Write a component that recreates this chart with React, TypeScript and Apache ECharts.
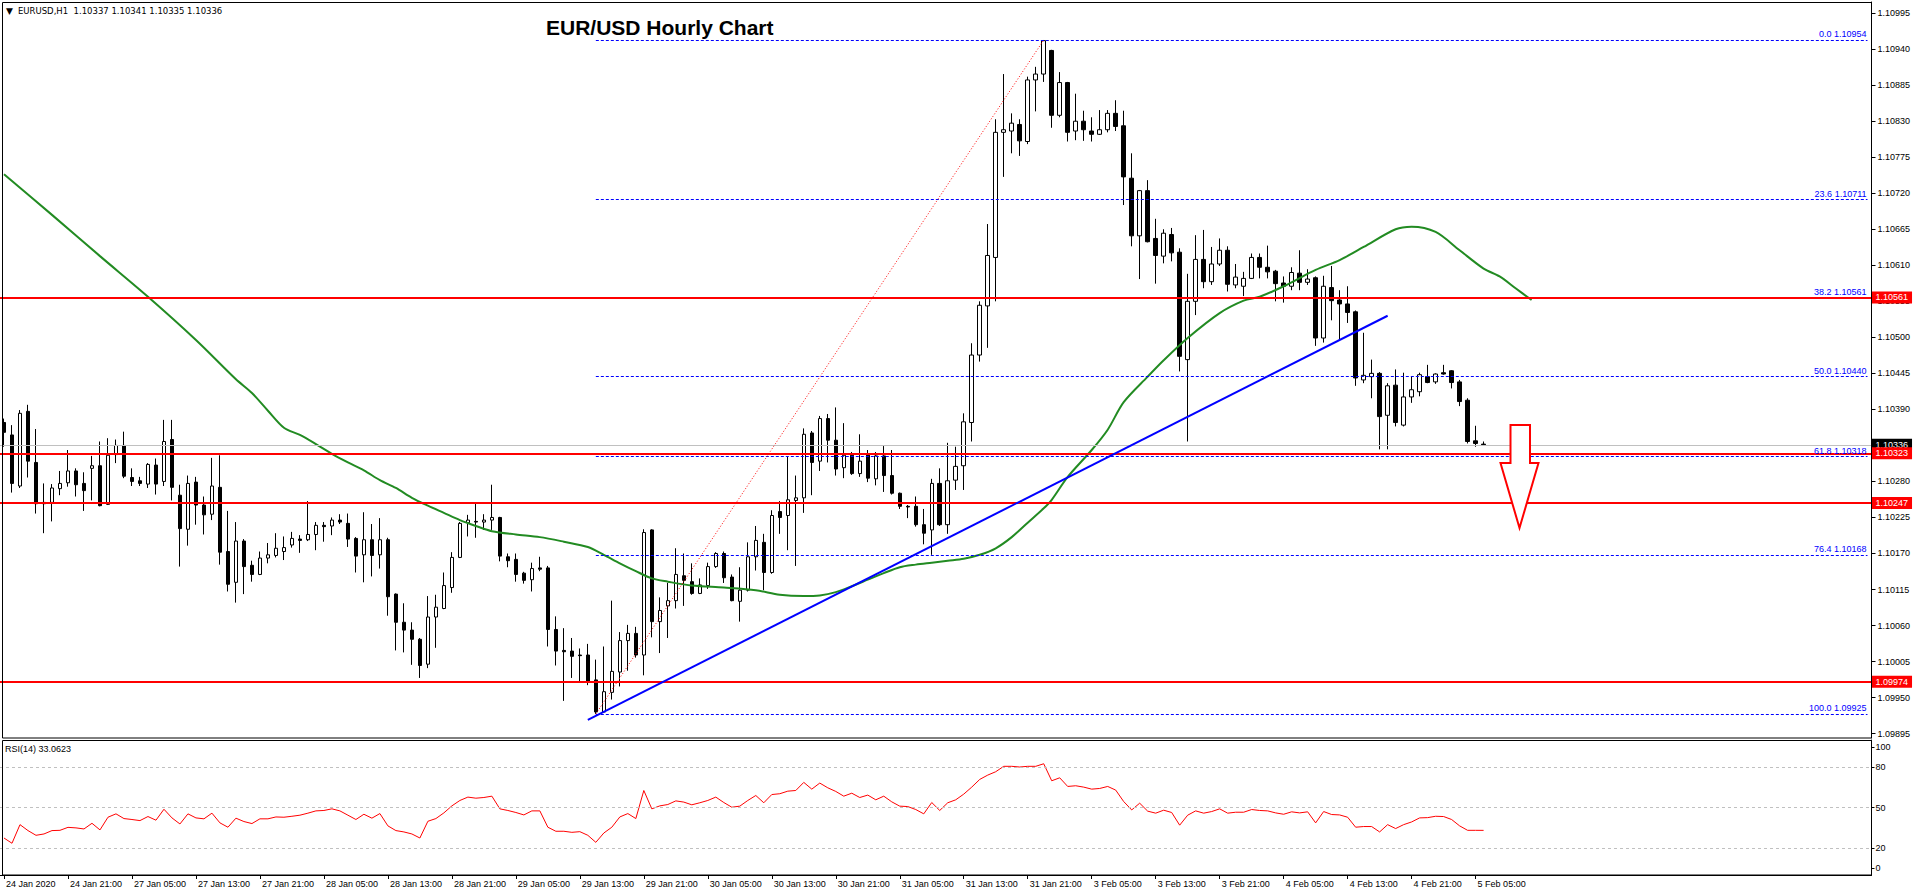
import React, { useEffect, useRef } from "react";
import * as echarts from "echarts";

// ---------- data ----------
const open = [
  1.10370,1.10351,1.10273,1.10387,1.10309,1.10246,1.10248,1.10269,1.10278,1.10296,
  1.10277,1.10300,1.10304,1.10245,1.10321,1.10335,1.10286,1.10281,1.10276,1.10305,
  1.10280,1.10344,1.10259,1.10207,1.10279,1.10244,1.10230,1.10271,1.10173,1.10126,
  1.10189,1.10152,1.10138,1.10163,1.10167,1.10173,1.10183,1.10192,1.10191,1.10199,
  1.10213,1.10212,1.10221,1.10216,1.10193,1.10168,1.10191,1.10168,1.10191,1.10108,
  1.10065,1.10053,1.10039,1.10001,1.10073,1.10086,1.10118,1.10164,1.10217,1.10219,
  1.10218,1.10221,1.10225,1.10165,1.10161,1.10140,1.10130,1.10148,1.10148,1.10054,
  1.10022,1.10021,1.10015,1.10015,1.09977,1.09928,1.09958,1.09989,1.10037,1.10048,
  1.10015,1.10206,1.10066,1.10090,1.10098,1.10136,1.10127,1.10109,1.10121,1.10150,
  1.10170,1.10134,1.10097,1.10114,1.10165,1.10187,1.10141,1.10234,1.10228,1.10251,
  1.10255,1.10354,1.10311,1.10376,1.10343,1.10301,1.10320,1.10292,1.10322,1.10284,
  1.10319,1.10289,1.10262,1.10242,1.10242,1.10214,1.10206,1.10277,1.10214,1.10282,
  1.10304,1.10370,1.10473,1.10548,1.10622,1.10813,1.10815,1.10825,1.10799,1.10893,
  1.10902,1.10938,1.10839,1.10889,1.10815,1.10830,1.10815,1.10810,1.10817,1.10842,
  1.10823,1.10743,1.10655,1.10724,1.10651,1.10624,1.10657,1.10630,1.10466,1.10555,
  1.10619,1.10585,1.10612,1.10633,1.10580,1.10578,1.10590,1.10622,1.10607,1.10601,
  1.10583,1.10578,1.10598,1.10584,1.10591,1.10499,1.10576,1.10557,1.10551,1.10539,
  1.10435,1.10440,1.10445,1.10381,1.10427,1.10366,1.10409,1.10417,1.10440,1.10432,
  1.10446,1.10449,1.10432,1.10404,1.10342,1.10337,
];
const high = [
  1.10376,1.10366,1.10389,1.10397,1.10360,1.10277,1.10276,1.10296,1.10328,1.10300,
  1.10294,1.10319,1.10341,1.10346,1.10344,1.10356,1.10300,1.10287,1.10308,1.10315,
  1.10374,1.10374,1.10275,1.10289,1.10287,1.10257,1.10316,1.10320,1.10235,1.10218,
  1.10192,1.10159,1.10173,1.10186,1.10201,1.10196,1.10203,1.10198,1.10250,1.10218,
  1.10218,1.10225,1.10230,1.10231,1.10195,1.10233,1.10215,1.10224,1.10194,1.10109,
  1.10094,1.10065,1.10041,1.10105,1.10107,1.10141,1.10172,1.10218,1.10229,1.10247,
  1.10230,1.10275,1.10226,1.10170,1.10170,1.10142,1.10156,1.10165,1.10151,1.10074,
  1.10056,1.10041,1.10025,1.10032,1.10008,1.10028,1.10098,1.10050,1.10061,1.10058,
  1.10207,1.10207,1.10103,1.10125,1.10178,1.10170,1.10155,1.10132,1.10156,1.10172,
  1.10173,1.10138,1.10149,1.10187,1.10212,1.10200,1.10236,1.10250,1.10318,1.10289,
  1.10361,1.10357,1.10380,1.10383,1.10393,1.10369,1.10325,1.10352,1.10328,1.10325,
  1.10334,1.10328,1.10263,1.10244,1.10257,1.10238,1.10284,1.10300,1.10339,1.10333,
  1.10384,1.10491,1.10555,1.10673,1.10833,1.10902,1.10842,1.10833,1.10898,1.10913,
  1.10954,1.10939,1.10905,1.10890,1.10872,1.10846,1.10836,1.10847,1.10847,1.10862,
  1.10846,1.10781,1.10725,1.10740,1.10681,1.10665,1.10667,1.10636,1.10597,1.10656,
  1.10664,1.10638,1.10651,1.10639,1.10612,1.10600,1.10628,1.10628,1.10640,1.10603,
  1.10593,1.10607,1.10633,1.10604,1.10593,1.10594,1.10609,1.10572,1.10578,1.10541,
  1.10507,1.10466,1.10447,1.10430,1.10451,1.10446,1.10440,1.10446,1.10458,1.10445,
  1.10458,1.10450,1.10435,1.10407,1.10365,1.10341,
];
const low = [
  1.10333,1.10263,1.10270,1.10286,1.10231,1.10201,1.10219,1.10259,1.10272,1.10257,
  1.10235,1.10251,1.10242,1.10244,1.10308,1.10285,1.10273,1.10273,1.10270,1.10260,
  1.10273,1.10251,1.10150,1.10182,1.10214,1.10199,1.10221,1.10153,1.10112,1.10095,
  1.10108,1.10127,1.10137,1.10155,1.10164,1.10160,1.10179,1.10171,1.10189,1.10175,
  1.10188,1.10198,1.10215,1.10180,1.10141,1.10126,1.10135,1.10147,1.10075,1.10022,
  1.10019,1.10000,1.09980,1.09995,1.10026,1.10085,1.10110,1.10163,1.10196,1.10194,
  1.10206,1.10206,1.10158,1.10149,1.10127,1.10124,1.10112,1.10143,1.10028,1.09999,
  1.09945,1.09980,1.09975,1.09969,1.09925,1.09927,1.09947,1.09967,1.09991,1.10011,
  1.09984,1.10042,1.10018,1.10041,1.10086,1.10090,1.10107,1.10108,1.10116,1.10148,
  1.10125,1.10097,1.10066,1.10112,1.10144,1.10114,1.10139,1.10200,1.10175,1.10151,
  1.10232,1.10259,1.10296,1.10309,1.10289,1.10285,1.10290,1.10287,1.10279,1.10274,
  1.10264,1.10260,1.10238,1.10224,1.10211,1.10184,1.10168,1.10212,1.10200,1.10267,
  1.10267,1.10341,1.10463,1.10484,1.10555,1.10745,1.10781,1.10777,1.10795,1.10845,
  1.10890,1.10820,1.10836,1.10799,1.10801,1.10800,1.10799,1.10809,1.10813,1.10815,
  1.10702,1.10639,1.10589,1.10645,1.10582,1.10613,1.10616,1.10448,1.10341,1.10534,
  1.10575,1.10580,1.10609,1.10570,1.10575,1.10563,1.10589,1.10590,1.10590,1.10555,
  1.10553,1.10572,1.10572,1.10580,1.10487,1.10492,1.10526,1.10497,1.10522,1.10426,
  1.10430,1.10407,1.10329,1.10329,1.10364,1.10364,1.10400,1.10410,1.10430,1.10429,
  1.10443,1.10422,1.10395,1.10338,1.10333,1.10335,
];
const close = [
  1.10355,1.10277,1.10384,1.10311,1.10246,1.10248,1.10270,1.10277,1.10296,1.10275,
  1.10266,1.10304,1.10243,1.10320,1.10335,1.10288,1.10280,1.10277,1.10306,1.10276,
  1.10341,1.10271,1.10208,1.10277,1.10244,1.10229,1.10273,1.10172,1.10123,1.10189,
  1.10150,1.10138,1.10163,1.10168,1.10178,1.10179,1.10193,1.10190,1.10199,1.10213,
  1.10211,1.10221,1.10218,1.10192,1.10166,1.10191,1.10167,1.10191,1.10104,1.10065,
  1.10053,1.10039,1.09999,1.10073,1.10088,1.10121,1.10164,1.10216,1.10221,1.10218,
  1.10221,1.10225,1.10166,1.10159,1.10138,1.10129,1.10147,1.10146,1.10054,1.10021,
  1.10020,1.10013,1.10014,1.09975,1.09928,1.09959,1.09990,1.10037,1.10048,1.10015,
  1.10202,1.10066,1.10083,1.10098,1.10138,1.10129,1.10109,1.10122,1.10150,1.10170,
  1.10133,1.10098,1.10114,1.10165,1.10190,1.10141,1.10228,1.10225,1.10252,1.10255,
  1.10352,1.10309,1.10376,1.10343,1.10299,1.10320,1.10292,1.10311,1.10285,1.10319,
  1.10289,1.10262,1.10242,1.10241,1.10214,1.10201,1.10277,1.10214,1.10281,1.10303,
  1.10371,1.10473,1.10549,1.10625,1.10813,1.10817,1.10827,1.10800,1.10893,1.10902,
  1.10953,1.10839,1.10889,1.10813,1.10830,1.10817,1.10810,1.10817,1.10842,1.10822,
  1.10745,1.10655,1.10724,1.10646,1.10625,1.10659,1.10629,1.10471,1.10555,1.10619,
  1.10585,1.10612,1.10633,1.10581,1.10592,1.10590,1.10622,1.10607,1.10600,1.10582,
  1.10578,1.10599,1.10584,1.10589,1.10499,1.10578,1.10556,1.10551,1.10538,1.10438,
  1.10442,1.10445,1.10379,1.10426,1.10370,1.10409,1.10420,1.10443,1.10431,1.10444,
  1.10444,1.10431,1.10402,1.10341,1.10338,1.10336,
];

const rsi = [
  27.4,23.5,37.3,32.9,29.4,30.4,32.9,33.1,35.3,34.9,
  34.1,38.3,33.4,42.8,45.3,41.8,41.1,40.3,43.3,40.6,
  48.7,42.3,37.8,45.3,42.3,41.6,45.8,38.6,35.4,42.1,
  39.6,38.1,41.6,41.6,43.0,42.8,43.5,44.3,45.8,47.5,
  47.8,49.0,47.5,44.3,41.1,45.0,42.1,45.5,36.4,32.9,
  31.9,30.4,27.4,39.8,41.8,46.0,51.2,55.2,57.7,56.9,
  57.4,58.4,49.0,47.8,46.3,44.5,47.5,47.5,35.4,32.4,
  32.4,31.6,32.1,29.4,24.2,31.1,35.4,43.0,45.5,41.8,
  62.6,49.0,51.2,52.2,54.9,54.0,52.0,53.5,55.2,57.7,
  53.7,50.2,51.0,55.2,58.9,53.5,59.6,60.2,62.1,62.6,
  68.6,63.6,68.1,64.6,61.9,58.4,60.6,57.4,59.2,55.7,
  58.4,54.2,51.0,50.7,48.5,45.3,53.7,47.8,53.5,55.7,
  59.9,65.1,70.8,74.0,76.5,80.5,80.5,80.0,80.5,80.5,
  82.4,69.8,72.0,65.6,66.1,65.1,63.6,64.1,65.6,62.9,
  54.4,48.2,53.2,47.3,45.8,48.0,46.3,36.9,44.3,47.5,
  45.8,47.0,49.0,45.8,46.5,46.5,48.5,47.8,47.5,46.0,
  45.0,46.8,46.0,46.8,38.6,47.0,44.8,44.5,42.8,35.4,
  35.9,35.9,31.9,37.3,34.4,37.3,39.3,42.3,42.5,43.5,
  43.3,41.1,36.4,33.1,33.1,33.06,
];

// moving average (green), sampled [bar index, price]
const maIndex = [0,6,12,18,24,29,31,33,35,37,39,41,43,45,47,49,51,53,55,57,59,61,64,67,70,73,75,77,79,81,83,86,90,94,97,100,102,104,106,108,110,112,114,116,118,120,122,124,126,128,130,131,133,136,138,140,143,145,148,152,155,157,160,164,167,170,174,176,179,182,185,187,189,191];
const maValue = [1.10749,1.10687,1.10624,1.10562,1.10496,1.10436,1.10415,1.10388,1.10362,1.10351,1.10337,1.10322,1.10309,1.10297,1.10282,1.10270,1.10255,1.10243,1.10232,1.10221,1.10212,1.10204,1.10199,1.10195,1.10188,1.10180,1.10168,1.10155,1.10143,1.10132,1.10127,1.10121,1.10118,1.10114,1.10107,1.10105,1.10106,1.10111,1.10120,1.10130,1.10140,1.10149,1.10153,1.10156,1.10159,1.10162,1.10168,1.10178,1.10195,1.10217,1.10239,1.10252,1.10287,1.10328,1.10359,1.10401,1.10440,1.10465,1.10499,1.10537,1.10556,1.10562,1.10578,1.10603,1.10618,1.10638,1.10665,1.10669,1.10661,1.10633,1.10605,1.10593,1.10575,1.10557];

const timeTickLabels = [
  "24 Jan 2020","24 Jan 21:00","27 Jan 05:00","27 Jan 13:00","27 Jan 21:00","28 Jan 05:00",
  "28 Jan 13:00","28 Jan 21:00","29 Jan 05:00","29 Jan 13:00","29 Jan 21:00","30 Jan 05:00",
  "30 Jan 13:00","30 Jan 21:00","31 Jan 05:00","31 Jan 13:00","31 Jan 21:00","3 Feb 05:00",
  "3 Feb 13:00","3 Feb 21:00","4 Feb 05:00","4 Feb 13:00","4 Feb 21:00","5 Feb 05:00",
];
const priceTicks = [
  1.09895,1.09950,1.10005,1.10060,1.10115,1.10170,1.10225,1.10280,1.10335,1.10390,1.10445,
  1.10500,1.10555,1.10610,1.10665,1.10720,1.10775,1.10830,1.10885,1.10940,1.10995,
];
const rsiTickLabels = ["0", "20", "50", "80", "100"];
const rsiLevels = [20, 50, 80];
const levelLines = [1.10561, 1.10323, 1.10247, 1.09974];
const fibPercent = ["0.0", "23.6", "38.2", "50.0", "61.8", "76.4", "100.0"];
const fibPrice = [1.10954, 1.10711, 1.10561, 1.10440, 1.10318, 1.10168, 1.09925];
const fibSwing = [[74, 1.09925], [130, 1.10954]];
const trendLine = [[73, 1.09916], [173, 1.10533]];
const bidPrice = 1.10336;
const lastBar = ["1.10337", "1.10341", "1.10335", "1.10336"];
const rsiLastText = "33.0623";

// ---------- layout constants ----------
const TOTAL = 234; // bar slots across the pane (incl. empty space at right)
const Y_MIN = 1.098883;
const Y_MAX = 1.11012;
const FONT = "Liberation Sans";

export default function App() {
  const ref = useRef<HTMLDivElement>(null);

  useEffect(() => {
    document.body.style.margin = "0";
    if (!ref.current) return;
    const chart = echarts.init(ref.current, null, { renderer: "svg" });

    const n = Math.min(open.length, high.length, low.length, close.length);
    const cats = Array.from({ length: TOTAL }, (_, i) => String(i));
    const candles = [];
    for (let i = 0; i < n; i++) candles.push([open[i], close[i], low[i], high[i]]);

    const tickAt = new Map<number, string>();
    timeTickLabels.forEach((t, k) => tickAt.set(k * 8, t));

    const rsiLabelPos = [5, 20, 50, 80, 95];
    const txt = { fontFamily: FONT, fontSize: 9, color: "#000" };

    const boxLabel = (text: string, bg: string) => ({
      show: true,
      position: "end",
      distance: 0,
      formatter: text,
      color: "#ffffff",
      backgroundColor: bg,
      fontFamily: FONT,
      fontSize: 9,
      lineHeight: 10,
      padding: [1, 4, 1, 4],
    });

    chart.setOption({
      animation: false,
      backgroundColor: "#ffffff",
      grid: [
        { left: -0.5, width: 1872, top: 2, height: 736 },
        { left: -0.5, width: 1872, top: 740, height: 135 },
      ],
      xAxis: [
        { type: "category", gridIndex: 0, data: cats, boundaryGap: true, show: false },
        {
          type: "category",
          gridIndex: 1,
          data: cats,
          boundaryGap: true,
          axisLine: { show: true, lineStyle: { color: "#000", width: 1 } },
          axisTick: {
            show: true,
            alignWithLabel: true,
            interval: (i: number) => tickAt.has(i),
            length: 4,
            lineStyle: { color: "#000" },
          },
          axisLabel: {
            ...txt,
            interval: (i: number) => tickAt.has(i),
            formatter: (v: string) => tickAt.get(Number(v)) ?? "",
            align: "left",
            margin: 4,
            padding: [0, 0, 0, 2],
          },
          splitLine: { show: false },
        },
      ],
      yAxis: [
        {
          type: "value",
          gridIndex: 0,
          position: "right",
          min: Y_MIN,
          max: Y_MAX,
          splitLine: { show: false },
          axisLine: { show: true, lineStyle: { color: "#000" } },
          axisTick: { show: true, customValues: priceTicks, length: 4, lineStyle: { color: "#000" } },
          axisLabel: {
            ...txt,
            customValues: priceTicks,
            formatter: (v: number) => v.toFixed(5),
            margin: 6,
          },
        },
        {
          type: "value",
          gridIndex: 1,
          position: "right",
          min: 0,
          max: 100,
          splitLine: { show: false },
          axisLine: { show: true, lineStyle: { color: "#000" } },
          axisTick: { show: true, customValues: rsiLabelPos, length: 3, lineStyle: { color: "#000" } },
          axisLabel: {
            ...txt,
            customValues: rsiLabelPos,
            formatter: (v: number) => rsiTickLabels[rsiLabelPos.indexOf(v)] ?? "",
            margin: 4,
          },
        },
      ],
      series: [
        {
          name: "EURUSD",
          type: "candlestick",
          xAxisIndex: 0,
          yAxisIndex: 0,
          data: candles,
          barWidth: 4,
          z: 2,
          itemStyle: {
            color: "#ffffff",
            color0: "#000000",
            borderColor: "#000000",
            borderColor0: "#000000",
            borderColorDoji: "#000000",
            borderWidth: 1,
          },
          markLine: {
            silent: true,
            precision: 5,
            symbol: ["none", "none"],
            animation: false,
            lineStyle: { color: "#c0c0c0", type: "solid", width: 1 },
            data: [{ yAxis: bidPrice, label: boxLabel(bidPrice.toFixed(5), "#000000") }],
          },
        },
        {
          name: "MA",
          type: "line",
          xAxisIndex: 0,
          yAxisIndex: 0,
          data: maIndex.map((i, k) => [i, maValue[k]]),
          symbol: "none",
          smooth: 0.3,
          z: 4,
          lineStyle: { color: "#228b22", width: 2 },
        },
        {
          name: "fib",
          type: "line",
          xAxisIndex: 0,
          yAxisIndex: 0,
          data: [],
          z: 4,
          markLine: {
            silent: true,
            precision: 5,
            symbol: ["none", "none"],
            animation: false,
            lineStyle: { color: "#0000ff", type: [3, 2], width: 1 },
            data: fibPrice.map((p, k) => [
              {
                coord: [fibSwing[0][0], p],
                label: {
                  show: true,
                  position: "insideEndTop",
                  distance: 1,
                  formatter: `${fibPercent[k]} ${p.toFixed(5)}`,
                  color: "#0000ff",
                  fontFamily: FONT,
                  fontSize: 9,
                },
              },
              { coord: [TOTAL - 1, p] },
            ]),
          },
        },
        {
          name: "fibSwing",
          type: "line",
          xAxisIndex: 0,
          yAxisIndex: 0,
          data: fibSwing,
          symbol: "none",
          z: 5,
          lineStyle: { color: "#ff0000", type: [1, 2], width: 1 },
        },
        {
          name: "trend",
          type: "line",
          xAxisIndex: 0,
          yAxisIndex: 0,
          data: trendLine,
          symbol: "none",
          z: 6,
          lineStyle: { color: "#0000ff", width: 2 },
          markLine: {
            silent: true,
            precision: 5,
            symbol: ["none", "none"],
            animation: false,
            lineStyle: { color: "#ff0000", type: "solid", width: 2 },
            data: levelLines.map((p) => ({ yAxis: p, label: boxLabel(p.toFixed(5), "#ff0000") })),
          },
        },
        {
          name: "RSI(14)",
          type: "line",
          xAxisIndex: 1,
          yAxisIndex: 1,
          data: rsi,
          symbol: "none",
          z: 3,
          lineStyle: { color: "#ff0000", width: 1 },
          markLine: {
            silent: true,
            symbol: ["none", "none"],
            animation: false,
            label: { show: false },
            lineStyle: { color: "#c0c0c0", type: [3, 3], width: 1 },
            data: rsiLevels.map((v) => ({ yAxis: v })),
          },
        },
      ],
      graphic: [
        {
          type: "rect",
          z: 10,
          silent: true,
          shape: { x: 2.5, y: 2.5, width: 1869, height: 735.5 },
          style: { fill: "none", stroke: "#000", lineWidth: 1 },
        },
        {
          type: "rect",
          z: 10,
          silent: true,
          shape: { x: 2.5, y: 740.5, width: 1869, height: 134.5 },
          style: { fill: "none", stroke: "#000", lineWidth: 1 },
        },
        {
          type: "text",
          z: 11,
          x: 6,
          y: 11,
          style: { text: "▼", font: `9px DejaVu Sans`, fill: "#000", textVerticalAlign: "middle" },
        },
        {
          type: "text",
          z: 11,
          x: 18,
          y: 11,
          style: {
            text: `EURUSD,H1  ${lastBar.join(" ")}`,
            font: `8.5px DejaVu Sans`,
            fill: "#000",
            textVerticalAlign: "middle",
          },
        },
        {
          type: "text",
          z: 11,
          x: 546,
          y: 27,
          style: {
            text: "EUR/USD Hourly Chart",
            font: `bold 21px ${FONT}`,
            fill: "#000",
            textVerticalAlign: "middle",
          },
        },
        {
          type: "text",
          z: 11,
          x: 5,
          y: 749,
          style: {
            text: `RSI(14) ${rsiLastText}`,
            font: `9px ${FONT}`,
            fill: "#000",
            textVerticalAlign: "middle",
          },
        },
        {
          type: "polygon",
          z: 11,
          silent: true,
          shape: {
            points: [
              [1510.5, 425],
              [1530, 425],
              [1530, 463],
              [1538.5, 463],
              [1519.5, 528],
              [1500.5, 463],
              [1510.5, 463],
            ],
          },
          style: { fill: "#ffffff", stroke: "#ff0000", lineWidth: 2 },
        },
      ],
    });

    return () => chart.dispose();
  }, []);

  return <div ref={ref} style={{ width: 1916, height: 896 }} />;
}
